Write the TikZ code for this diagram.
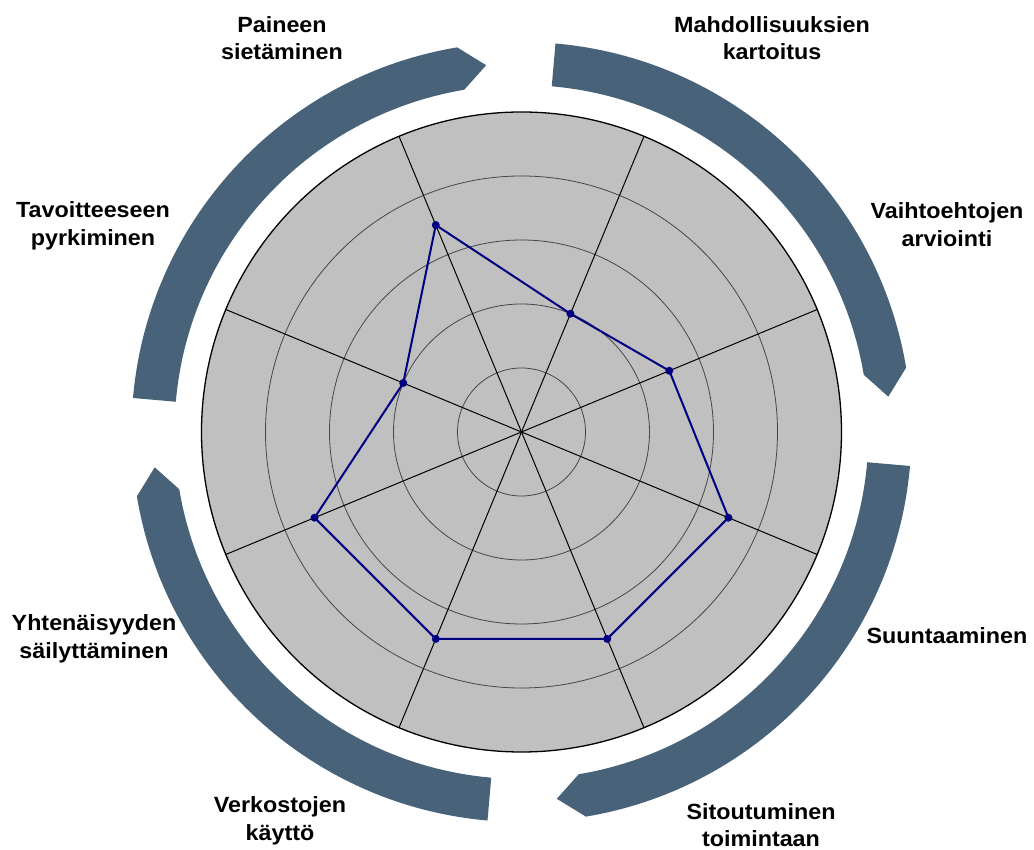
\documentclass[tikz,border=0pt]{standalone}
\usepackage{fontspec}
\setmainfont{Liberation Sans}[FakeStretch=1.06]
\definecolor{arcblue}{RGB}{72,98,122}
\definecolor{discgray}{RGB}{192,192,192}
\definecolor{ringgray}{RGB}{70,70,70}
\definecolor{datanavy}{RGB}{0,0,128}
\newcommand{\segarc}[1]{%
  \fill[arcblue] (175-#1:347) arc[start angle=175-#1, end angle=99.5-#1, radius=347]
    -- (95.5-#1:368.5) -- (99.5-#1:390)
    arc[start angle=99.5-#1, end angle=175-#1, radius=390] -- cycle;}
\begin{document}
\begin{tikzpicture}[x=1pt,y=1pt,
  lab/.style={font=\fontsize{22}{27.5}\selectfont\bfseries, align=center, inner sep=0pt, anchor=base},
  ring/.style={draw=ringgray, line width=0.8pt},
  spoke/.style={draw=black, line width=1pt},
  datapoly/.style={draw=datanavy, line width=2pt, line join=round},
  datadot/.style={fill=datanavy}]
\useasboundingbox (-521.5,-418) rectangle (512.5,432);
% outer segmented arcs
\foreach \k in {0,90,180,270} {\segarc{\k}}
% disc
\fill[discgray] (0,0) circle[radius=320];
\foreach \r in {64,128,192,256} {\draw[ring] (0,0) circle[radius=\r];}
\foreach \a in {22.5,67.5,112.5,157.5} {\draw[spoke] (\a:320) -- (\a+180:320);}
\draw[black, line width=1.3pt] (0,0) circle[radius=320];
% data
\coordinate (p1) at (112.5:224);
\coordinate (p2) at (67.5:128);
\coordinate (p3) at (22.5:160);
\coordinate (p4) at (-22.5:224);
\coordinate (p5) at (-67.5:224);
\coordinate (p6) at (-112.5:224);
\coordinate (p7) at (-157.5:224);
\coordinate (p8) at (157.5:128);
\draw[datapoly] (p1) -- (p2) -- (p3) -- (p4) -- (p5) -- (p6) -- (p7) -- (p8) -- cycle;
\foreach \p in {p1,p2,p3,p4,p5,p6,p7,p8} {\fill[datadot] (\p) circle[radius=4];}
% labels (anchor = baseline of the last line)
\node[lab] (l1) at (-239.5,372) {Paineen\\sietäminen};
\node[lab] (l2) at (250.5,372) {Mahdollisuuksien\\kartoitus};
\node[lab] (l3) at (425.5,185.5) {Vaihtoehtojen\\arviointi};
\node[lab] (l4) at (425.5,-212) {Suuntaaminen};
\node[lab] (l5) at (239.5,-415) {Sitoutuminen\\toimintaan};
\node[lab] (l6) at (-241.5,-408.5) {Verkostojen\\käyttö};
\node[lab] (l7) at (-427.5,-226.5) {Yhtenäisyyden\\säilyttäminen};
\node[lab] (l8) at (-428.5,186.5) {Tavoitteeseen\\pyrkiminen};
\end{tikzpicture}
\end{document}
